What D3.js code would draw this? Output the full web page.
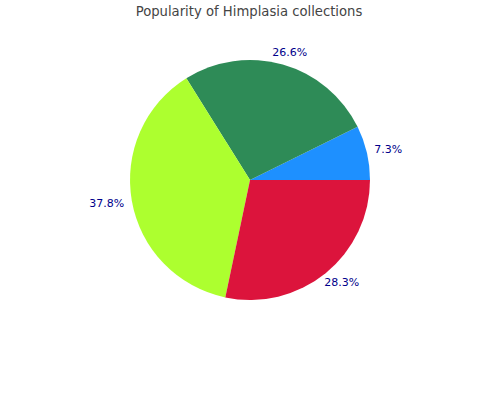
<html>

<head>
    <title>Popularity of Himplasia collections</title>
    <script src="https://d3js.org/d3.v7.min.js"></script>
    <style>
        body { margin: 0; background: #fff; }
    </style>
</head>

<body>
    <div id="myPlot"></div>
    <script>
        var labels = ["7.3%", "26.6%", "37.8%", "28.3%"];
        var shares = [7.3, 26.6, 37.8, 28.3];
        var colors = ["#1E90FF", "#2E8B57", "#ADFF2F", "#DC143C"];

        var width = 500, height = 400;
        var cx = 250, cy = 180, radius = 120, labelRadius = 128;

        var svg = d3.select("#myPlot").append("svg")
            .attr("width", width)
            .attr("height", height);

        svg.append("text")
            .attr("x", 249)
            .attr("y", 16)
            .attr("text-anchor", "middle")
            .style("font-family", "DejaVu Sans")
            .style("font-size", "13.2px")
            .style("fill", "#444")
            .text("Popularity of Himplasia collections");

        // slices start at 3 o'clock and run counter-clockwise
        var pie = d3.pie()
            .sort(null)
            .startAngle(Math.PI / 2)
            .endAngle(Math.PI / 2 - 2 * Math.PI);

        var arcs = pie(shares);

        var arc = d3.arc().innerRadius(0).outerRadius(radius);

        var g = svg.append("g")
            .attr("transform", "translate(" + cx + "," + cy + ")");

        g.selectAll("path")
            .data(arcs)
            .enter()
            .append("path")
            .attr("d", arc)
            .attr("fill", function (d, i) { return colors[i]; });

        // label sits just outside a point on the ring, pushed away by half its box
        var texts = g.selectAll("text")
            .data(arcs)
            .enter()
            .append("text")
            .attr("text-anchor", "middle")
            .attr("dominant-baseline", "central")
            .style("font-family", "DejaVu Sans")
            .style("font-size", "11px")
            .style("fill", "#00008B")
            .text(function (d, i) { return labels[i]; });

        texts.attr("transform", function (d) {
            var a = (d.startAngle + d.endAngle) / 2;
            var ux = Math.sin(a), uy = -Math.cos(a);
            var w = this.getBBox().width, h = 9;
            var x = ux * labelRadius + ux * w / 2;
            var y = uy * labelRadius + uy * h / 2;
            return "translate(" + x + "," + y + ")";
        });
    </script>
</body>

</html>
